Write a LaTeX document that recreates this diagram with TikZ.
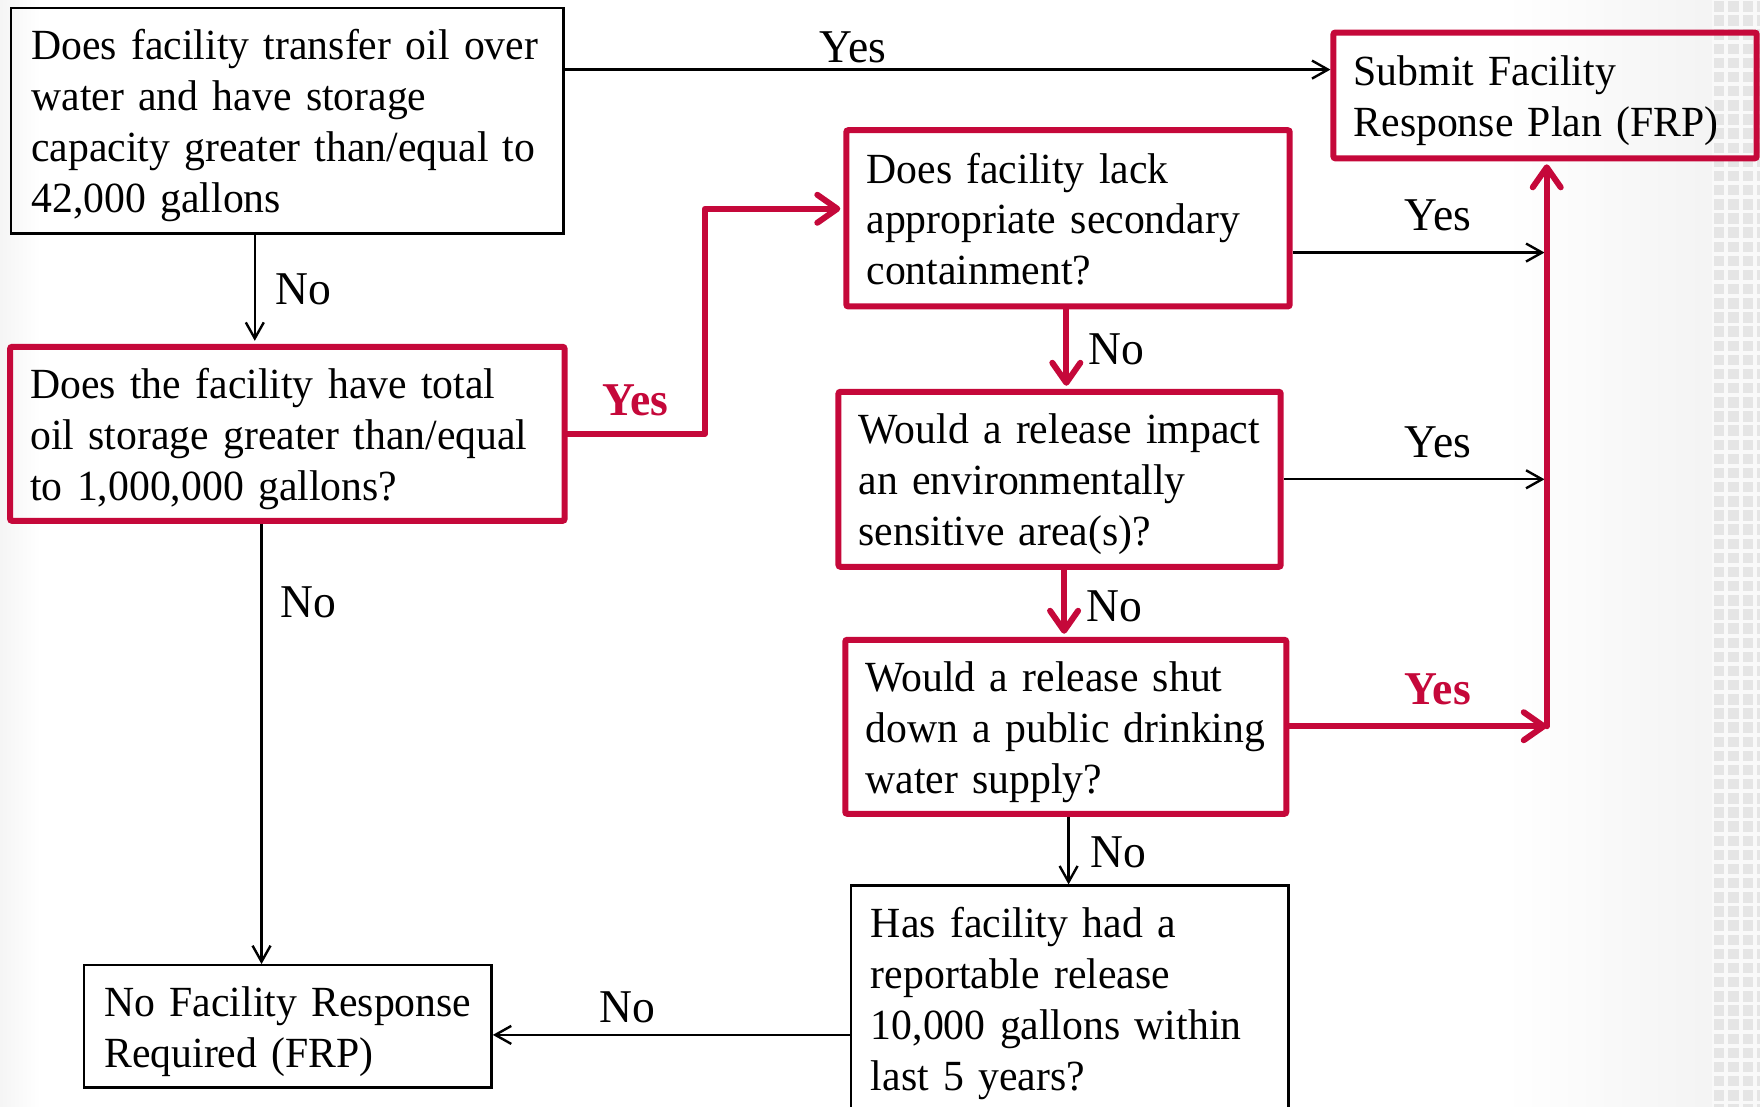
\documentclass[tikz,border=0pt]{standalone}
\usepackage{fontspec}
\setmainfont{Liberation Serif}[FakeStretch=0.97]
\usetikzlibrary{arrows.meta}
\definecolor{frpred}{RGB}{197,8,58}
\newcommand\qline[1]{\mbox{#1}}
\begin{document}
\begin{tikzpicture}[x=0.5612pt,y=-0.5612pt,
  every node/.style={font=\fontsize{21.5pt}{25.4pt}\selectfont},
  qbox/.style={draw=black, line width=1.2pt, rectangle, align=left, inner xsep=10.1pt, inner ysep=0pt, text height=15.5pt},
  rbox/.style={qbox, draw=frpred, line width=3pt, rounded corners=1pt},
  lines2/.style={text depth=25.4pt},
  lines3/.style={text depth=50.8pt},
  lines4/.style={text depth=76.2pt},
  blk/.style={draw=black, line width=1.2pt, -{Straight Barb[length=8pt,width=9pt]}},
  redln/.style={draw=frpred, line width=3pt, line cap=round, line join=round,
    -{Straight Barb[length=10pt,width=14pt,line cap=round,line join=round]}},
  lab/.style={inner sep=0pt, font=\fontsize{23.5pt}{28pt}\selectfont},
  rlab/.style={lab, text=frpred, font=\fontsize{23.5pt}{28pt}\selectfont\bfseries}
]
\useasboundingbox (0,0) rectangle (1568,986);
% background
\fill[left color=gray!8, right color=white] (0,0) rectangle (36,986);
\fill[left color=white, right color=gray!9] (1340,0) rectangle (1525,986);
\fill[gray!5] (1525,0) rectangle (1568,986);
\foreach \i in {0,...,3}
  \foreach \j in {0,...,78}
    \fill[gray!20] ({1527+12.8*\i},{1+12.6*\j}) rectangle ++(9.3,9.3);

% boxes
\node[qbox, lines4, minimum width=276.1pt, minimum height=112.8pt, text width=255.9pt] (b1) at (256,107.5)
  {\qline{Does facility transfer oil over}\\ \qline{water and have storage}\\ \qline{capacity greater than/equal to}\\ \qline{42,000 gallons}};
\node[rbox, lines3, minimum width=277.2pt, minimum height=87pt, text width=257pt] (b2) at (256,386.5)
  {\qline{Does the facility have total}\\ \qline{oil storage greater than/equal}\\ \qline{to 1,000,000 gallons?}};
\node[rbox, lines2, minimum width=211.6pt, minimum height=62.9pt, text width=191.4pt] (s) at (1376.5,85)
  {\qline{Submit Facility}\\ \qline{Response Plan (FRP)}};
\node[rbox, lines3, minimum width=221.7pt, minimum height=88.1pt, text width=201.5pt] (b3) at (951.5,194.5)
  {\qline{Does facility lack}\\ \qline{appropriate secondary}\\ \qline{containment?}};
\node[rbox, lines3, minimum width=221.1pt, minimum height=87.5pt, text width=200.9pt] (b4) at (944,427)
  {\qline{Would a release impact}\\ \qline{an environmentally}\\ \qline{sensitive area(s)?}};
\node[rbox, lines3, minimum width=220.5pt, minimum height=87pt, text width=200.3pt] (b5) at (949.5,647.5)
  {\qline{Would a release shut}\\ \qline{down a public drinking}\\ \qline{water supply?}};
\node[qbox, lines4, minimum width=218.9pt, minimum height=112.8pt, text width=198.7pt] (b6) at (953,889.5)
  {\qline{Has facility had a}\\ \qline{reportable release}\\ \qline{10,000 gallons within}\\ \qline{last 5 years?}};
\node[qbox, lines2, minimum width=203.7pt, minimum height=61.2pt, text width=183.5pt] (b7) at (256.5,914.5)
  {\qline{No Facility Response}\\ \qline{Required (FRP)}};

% helper coordinates
\coordinate (ya) at (0,62);
\coordinate (x227) at (227,0);
\coordinate (c1) at (628,186);
\coordinate (x233) at (233,0);
\coordinate (j3) at (1376,225);
\coordinate (j4) at (1376,427);
\coordinate (j5) at (1378,647);
\coordinate (x950) at (950,0);
\coordinate (x948) at (948,0);
\coordinate (x952) at (952,0);
\coordinate (y922) at (0,922);

% connectors
\draw[blk] (b1.east |- ya) -- (s.west |- ya);
\draw[blk, shorten >=1.5pt] (b1.south -| x227) -- (b2.north -| x227);
\draw[redln, shorten >=1.5pt] (b2.east) -| (c1) -- (b3.west |- c1);
\draw[blk] (b2.south -| x233) -- (b7.north -| x233);
\draw[blk] (b3.east |- j3) -- (j3);
\draw[blk] (b4.east |- j4) -- (j4);
\draw[redln] (b5.east |- j5) -- (j5);
\draw[redln, shorten >=1.5pt] (j5) -- (s.south -| j5);
\draw[redln, shorten >=1.5pt] (b3.south -| x950) -- (b4.north -| x950);
\draw[redln, shorten >=1.5pt] (b4.south -| x948) -- (b5.north -| x948);
\draw[blk] (b5.south -| x952) -- (b6.north -| x952);
\draw[blk] (b6.west |- y922) -- (b7.east |- y922);

% labels
\node[lab] (l1) at (760,42) {Yes};
\node[lab] (l2) at (270,258) {No};
\node[rlab] (l3) at (566,357) {Yes};
\node[lab] (l4) at (275,537) {No};
\node[lab] (l5) at (1281,192) {Yes};
\node[lab] (l6) at (995,311) {No};
\node[lab] (l7) at (1281,394) {Yes};
\node[lab] (l8) at (993,540) {No};
\node[rlab] (l9) at (1281,614) {Yes};
\node[lab] (l10) at (996,759) {No};
\node[lab] (l11) at (559,897) {No};
\end{tikzpicture}
\end{document}
